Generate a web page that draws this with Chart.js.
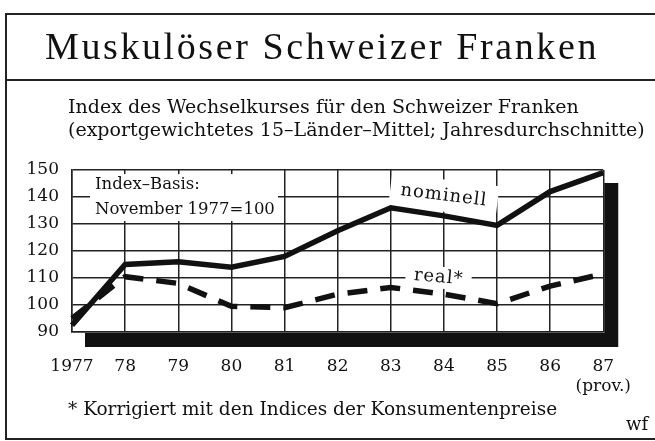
<!DOCTYPE html>
<html>
<head>
<meta charset="utf-8">
<script src="https://cdn.jsdelivr.net/npm/chart.js@4.4.1/dist/chart.umd.min.js"></script>
<style>
  body { margin: 0; background: #fff; }
  #wrap { position: relative; width: 655px; height: 441px; overflow: hidden; }
  #canvas { position: absolute; left: 0; top: 0; }
  .frame { position: absolute; background: #222; }
  .txt { position: absolute; color: #111; font-family: "DejaVu Serif", serif; white-space: nowrap; }
  #title { left: 45px; top: 24px; font-family: "Liberation Serif", serif; font-size: 38px; letter-spacing: 2.6px; }
  #sub { left: 68px; top: 95px; font-size: 19px; line-height: 23px; }
  #foot { left: 68px; top: 398px; font-size: 18.5px; }
  #wf { left: 626px; top: 413px; font-size: 18px; }
</style>
</head>
<body>
<div id="wrap">
  <canvas id="canvas" width="655" height="441"></canvas>
  <div class="frame" style="left:5px;top:13px;width:650px;height:1.5px"></div>
  <div class="frame" style="left:5px;top:79px;width:650px;height:1.5px"></div>
  <div class="frame" style="left:5px;top:438px;width:650px;height:1.5px"></div>
  <div class="frame" style="left:5px;top:13px;width:1.5px;height:427px"></div>
  <div class="txt" id="title">Muskulöser Schweizer Franken</div>
  <div class="txt" id="sub">Index des Wechselkurses für den Schweizer Franken<br>(exportgewichtetes 15–Länder–Mittel; Jahresdurchschnitte)</div>
  <div class="txt" id="foot">* Korrigiert mit den Indices der Konsumentenpreise</div>
  <div class="txt" id="wf">wf</div>
</div>
<script>
var years = ['1977', '78', '79', '80', '81', '82', '83', '84', '85', '86', ['87', '(prov.)']];
var nominell = [92.5, 115, 116, 114, 118, 127.5, 136, 133, 129.5, 142, 149];
var real = [95, 110.5, 108, 99.5, 99, 104, 106.5, 104, 100.5, 107, 111.5];
var yTicks = [90, 100, 110, 120, 130, 140, 150];

var serif = '"DejaVu Serif", serif';

// schwarzer Schatten unten und rechts vom Diagramm
var shadowPlugin = {
   id: 'shadow',
   beforeDraw: function(chart) {
      var a = chart.chartArea, ctx = chart.ctx;
      ctx.save();
      ctx.fillStyle = '#111';
      ctx.fillRect(a.left + 13, a.bottom + 1, a.right - a.left + 1, 14);
      ctx.fillRect(a.right + 1, a.top + 13, 14, a.bottom - a.top + 2);
      ctx.restore();
   }
};

function label(ctx, text, x, y, angle, boxW, boxH) {
   ctx.save();
   ctx.translate(x, y);
   ctx.rotate(angle * Math.PI / 180);
   ctx.fillStyle = '#fff';
   ctx.fillRect(-boxW / 2, -boxH / 2, boxW, boxH);
   ctx.fillStyle = '#111';
   ctx.textAlign = 'center';
   ctx.textBaseline = 'middle';
   ctx.fillText(text, 0, 0);
   ctx.restore();
}

// Beschriftungen im Diagramm
var notesPlugin = {
   id: 'notes',
   beforeDatasetsDraw: function(chart) {
      var ctx = chart.ctx, x = chart.scales.x, y = chart.scales.y;
      ctx.save();
      ctx.font = '16.5px ' + serif;
      // Index-Basis Kasten
      var l = x.getPixelForValue(0) + 18, t = y.getPixelForValue(148.5);
      ctx.fillStyle = '#fff';
      ctx.fillRect(l, t, 188, 47);
      ctx.fillStyle = '#111';
      ctx.textBaseline = 'middle';
      ctx.fillText('Index–Basis:', l + 5, t + 11);
      ctx.fillText('November 1977=100', l + 5, t + 36);
      ctx.font = '18px ' + serif;
      ctx.letterSpacing = '1px';
      label(ctx, 'nominell', x.getPixelForValue(7), y.getPixelForValue(140.5), 7, 108, 32);
      label(ctx, 'real*', x.getPixelForValue(6.9), y.getPixelForValue(110.2), 5, 66, 22);
      ctx.restore();
   }
};

new Chart(document.getElementById('canvas'), {
   type: 'line',
   data: {
      labels: years,
      datasets: [{
         label: 'nominell',
         data: nominell,
         borderColor: '#111',
         borderWidth: 5.5,
         pointRadius: 0,
         tension: 0
      }, {
         label: 'real*',
         data: real,
         borderColor: '#111',
         borderWidth: 5.5,
         borderDash: [20, 13],
         pointRadius: 0,
         tension: 0
      }]
   },
   options: {
      responsive: false,
      animation: false,
      layout: { padding: { top: 170, right: 48, left: 0, bottom: 0 } },
      plugins: { legend: { display: false }, tooltip: { enabled: false } },
      scales: {
         x: {
            grid: { color: '#222', lineWidth: 1.5, drawTicks: false },
            border: { color: '#222', width: 1.5 },
            ticks: { color: '#111', font: { family: serif, size: 17 }, padding: 24, maxRotation: 0, autoSkip: false },
            afterFit: function(s) { s.height = 109; }
         },
         y: {
            min: 90, max: 150,
            afterBuildTicks: function(s) { s.ticks = yTicks.map(function(v) { return { value: v }; }); },
            grid: { color: '#222', lineWidth: 1.5, drawTicks: false },
            border: { color: '#222', width: 1.5 },
            ticks: { color: '#111', font: { family: serif, size: 17 }, padding: 13 },
            afterFit: function(s) { s.width = 72; }
         }
      }
   },
   plugins: [shadowPlugin, notesPlugin]
});
</script>
</body>
</html>
